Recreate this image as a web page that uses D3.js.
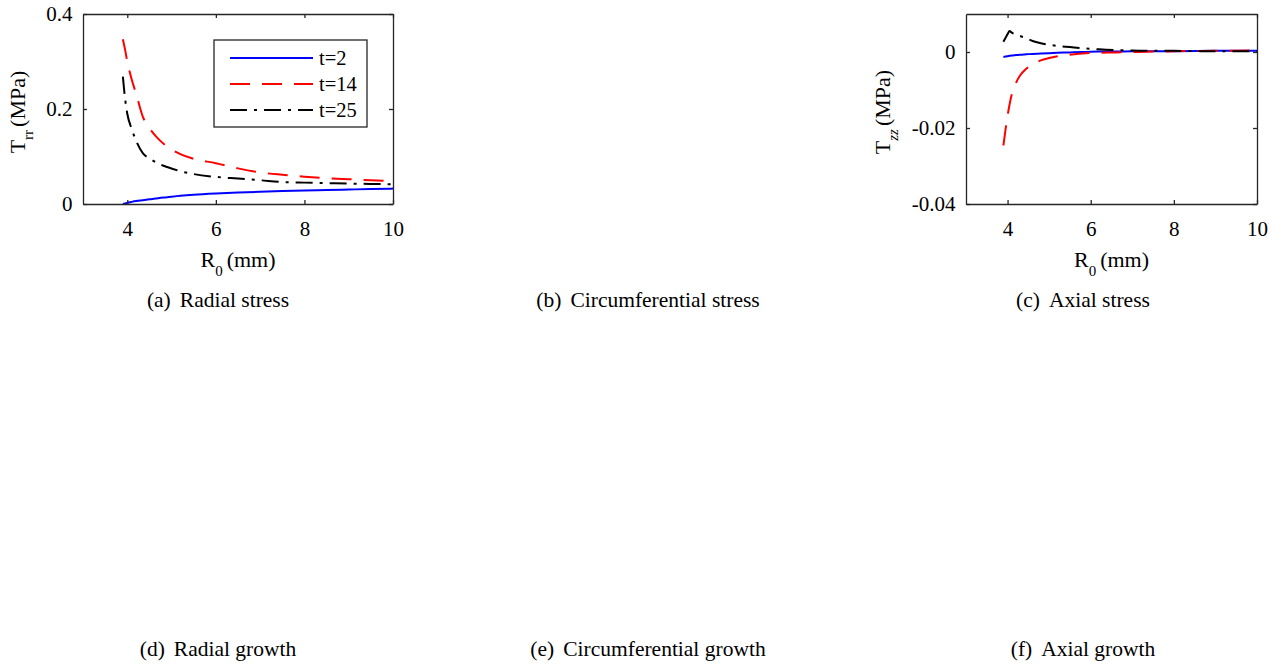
<!DOCTYPE html>
<html>
<head>
<meta charset="utf-8">
<script src="https://cdn.jsdelivr.net/npm/d3@7"></script>
<style>
  html, body { margin: 0; padding: 0; background: #ffffff; }
  svg { display: block; }
  text { font-family: "Liberation Serif", "Times New Roman", Times, serif; fill: #000; }
</style>
</head>
<body>
<svg id="fig" width="1281" height="664"></svg>
<script>
// Initial radius R0 (mm) sampled along each profile
const r0Radial = [3.9, 3.95, 4.0, 4.1, 4.2, 4.35, 4.5, 4.7, 4.9, 5.2, 5.5, 6, 6.5, 7, 7.5, 8, 8.5, 9, 9.5, 10];
// Radial stress T_rr (MPa) at three times
const trrT2  = [0.000, 0.0012, 0.0025, 0.0045, 0.0062, 0.0080, 0.0098, 0.0122, 0.0142, 0.0172, 0.0195, 0.0222, 0.0242, 0.0258, 0.0272, 0.0284, 0.0295, 0.0305, 0.0315, 0.0324];
const trrT14 = [0.347, 0.325, 0.300, 0.262, 0.232, 0.184, 0.160, 0.137, 0.121, 0.105, 0.095, 0.086, 0.075, 0.0665, 0.0615, 0.0575, 0.0545, 0.0522, 0.0500, 0.0484];
const trrT25 = [0.268, 0.222, 0.190, 0.158, 0.133, 0.107, 0.096, 0.085, 0.078, 0.069, 0.063, 0.057, 0.0535, 0.0500, 0.0463, 0.0450, 0.0440, 0.0430, 0.0422, 0.0415];

const r0Axial = [3.9, 3.95, 4.0, 4.05, 4.1, 4.2, 4.3, 4.45, 4.6, 4.8, 5.0, 5.2, 5.5, 5.8, 6.2, 6.6, 7, 7.5, 8, 9, 10];
// Axial stress T_zz (MPa) at three times
const tzzT2  = [-0.0013, -0.0012, -0.0011, -0.0010, -0.0009, -0.0008, -0.0007, -0.0006, -0.0005, -0.0004, -0.0003, -0.0002, -0.0001, 0.0000, 0.0001, 0.0001, 0.0002, 0.0002, 0.0002, 0.0003, 0.0003];
const tzzT14 = [-0.0246, -0.0205, -0.0168, -0.0137, -0.0112, -0.0082, -0.0062, -0.0044, -0.0032, -0.0022, -0.0016, -0.0011, -0.0007, -0.0004, -0.0002, -0.0001, 0.0000, 0.0001, 0.0002, 0.0003, 0.0004];
const tzzT25 = [0.0027, 0.0037, 0.0047, 0.0055, 0.0051, 0.0046, 0.0042, 0.0036, 0.0029, 0.0023, 0.0019, 0.0016, 0.0013, 0.0010, 0.0007, 0.0005, 0.0004, 0.0003, 0.0003, 0.0002, 0.0002];

const seriesNames = ["t=2", "t=14", "t=25"];
const xTicks = [4, 6, 8, 10];
const trrTicks = [0, 0.2, 0.4];
const tzzTicks = [0, -0.02, -0.04];
const captionLabels = ["(a)", "(b)", "(c)", "(d)", "(e)", "(f)"];
const captionTexts = ["Radial stress", "Circumferential stress", "Axial stress",
                      "Radial growth", "Circumferential growth", "Axial growth"];

// ---- drawing ----
const svg = d3.select("#fig");
svg.append("rect").attr("width", 1281).attr("height", 664).attr("fill", "#fff");

const axisColor = "#262626";
const lineStyles = [
  { color: "#0000ff", dash: null },
  { color: "#ff0000", dash: "20,12" },
  { color: "#000000", dash: "17,7,3,7" }
];

function drawPanel(opts) {
  const { left, right, top, bottom, xDomain, yDomain, yTicks, xs, ys, ySub, ySubItalic, yLabelX, legend } = opts;
  const x = d3.scaleLinear().domain(xDomain).range([left, right]);
  const y = d3.scaleLinear().domain(yDomain).range([bottom, top]);
  const g = svg.append("g");

  // curves
  const line = d3.line().x(d => x(d[0])).y(d => y(d[1])).curve(d3.curveMonotoneX);
  ys.forEach((vals, i) => {
    const pts = xs.map((v, k) => [v, vals[k]]);
    g.append("path").datum(pts)
      .attr("d", line)
      .attr("fill", "none")
      .attr("stroke", lineStyles[i].color)
      .attr("stroke-width", 2)
      .attr("stroke-dasharray", lineStyles[i].dash)
      .attr("stroke-linejoin", "round");
  });

  // axes (ticks pointing inward on all four sides)
  const styleAxis = sel => {
    sel.selectAll("path.domain").attr("stroke", axisColor).attr("stroke-width", 1.3).attr("fill", "none");
    sel.selectAll(".tick line").attr("stroke", axisColor).attr("stroke-width", 1.3);
    sel.selectAll(".tick text").attr("fill", "#262626").attr("font-family", null)
      .style("font-size", "21px");
  };
  g.append("g").attr("transform", `translate(0,${bottom})`)
    .call(d3.axisBottom(x).tickValues(xTicks).tickSizeInner(-4).tickSizeOuter(0).tickPadding(17).tickFormat(d3.format("d")))
    .call(styleAxis);
  g.append("g").attr("transform", `translate(0,${top})`)
    .call(d3.axisTop(x).tickValues(xTicks).tickSizeInner(-4).tickSizeOuter(0).tickFormat(""))
    .call(styleAxis);
  g.append("g").attr("transform", `translate(${left},0)`)
    .call(d3.axisLeft(y).tickValues(yTicks).tickSizeInner(-4).tickSizeOuter(0).tickPadding(10.5).tickFormat(d => String(d)))
    .call(styleAxis);
  g.append("g").attr("transform", `translate(${right},0)`)
    .call(d3.axisRight(y).tickValues(yTicks).tickSizeInner(-4).tickSizeOuter(0).tickFormat(""))
    .call(styleAxis);

  // x-axis title: R0 (mm)
  const xt = g.append("text")
    .attr("x", (left + right) / 2).attr("y", 266.5)
    .attr("text-anchor", "middle")
    .style("font-size", "22px").attr("fill", "#262626");
  xt.append("tspan").text("R");
  xt.append("tspan").attr("dy", 9).style("font-size", "15px").text("0");
  xt.append("tspan").attr("dy", -9).attr("dx", 4).text("(mm)");

  // y-axis title: T_sub (MPa)
  const yt = g.append("text")
    .attr("transform", `translate(${yLabelX},${(top + bottom) / 2 + 3}) rotate(-90)`)
    .attr("text-anchor", "middle")
    .style("font-size", "22px").attr("fill", "#262626");
  yt.append("tspan").text("T");
  yt.append("tspan").attr("dy", 8).style("font-size", "15px")
    .style("font-style", ySubItalic ? "italic" : "normal").text(ySub);
  yt.append("tspan").attr("dy", -8).attr("dx", 3).text("(MPa)");

  if (legend) {
    const lg = g.append("g");
    lg.append("rect")
      .attr("x", legend.x).attr("y", legend.y)
      .attr("width", legend.w).attr("height", legend.h)
      .attr("fill", "#fff").attr("stroke", axisColor).attr("stroke-width", 1.3);
    seriesNames.forEach((name, i) => {
      const cy = legend.y + 18 + i * 26;
      lg.append("line")
        .attr("x1", legend.x + 16).attr("x2", legend.x + 99)
        .attr("y1", cy).attr("y2", cy)
        .attr("stroke", lineStyles[i].color).attr("stroke-width", 2)
        .attr("stroke-dasharray", lineStyles[i].dash);
      lg.append("text")
        .attr("x", legend.x + 105).attr("y", cy + 7)
        .style("font-size", "20.5px").attr("fill", "#000")
        .text(name);
    });
  }
}

drawPanel({
  left: 83, right: 393, top: 14, bottom: 204,
  xDomain: [3, 10], yDomain: [0, 0.4], yTicks: trrTicks,
  xs: r0Radial, ys: [trrT2, trrT14, trrT25],
  ySub: "rr", ySubItalic: false, yLabelX: 25,
  legend: { x: 214, y: 40, w: 153, h: 87 }
});

drawPanel({
  left: 966, right: 1257, top: 14, bottom: 204,
  xDomain: [3, 10], yDomain: [-0.04, 0.01], yTicks: tzzTicks,
  xs: r0Axial, ys: [tzzT2, tzzT14, tzzT25],
  ySub: "zz", ySubItalic: true, yLabelX: 890,
  legend: null
});

// sub-figure captions
const captionCenters = [218, 648, 1083];
const captionBaselines = [307, 656];
captionTexts.forEach((txt, i) => {
  const t = svg.append("text")
    .attr("x", captionCenters[i % 3])
    .attr("y", captionBaselines[Math.floor(i / 3)])
    .attr("text-anchor", "middle")
    .style("font-size", "21.5px");
  t.append("tspan").text(captionLabels[i]);
  t.append("tspan").attr("dx", 9).text(txt);
});
</script>
</body>
</html>
